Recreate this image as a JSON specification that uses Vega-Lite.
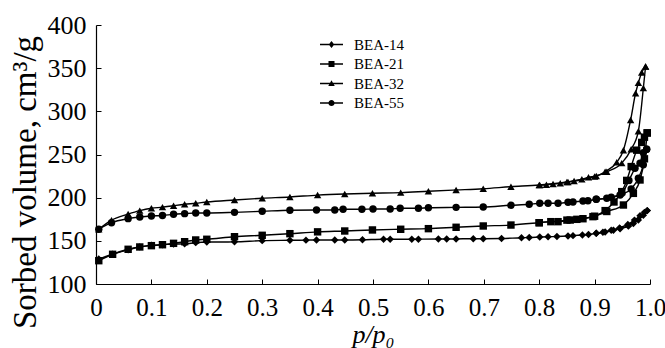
{
  "$schema": "https://vega.github.io/schema/vega-lite/v6.json",
  "autosize": {"type": "none"},
  "width": 554,
  "height": 259,
  "padding": {"left": 96, "top": 25, "right": 15, "bottom": 64},
  "background": "white",
  "datasets": {
    "pts": [
      {"s":"BEA-14","b":"a","x":0.005,"y":129},{"s":"BEA-14","b":"a","x":0.03,"y":134.5},{"s":"BEA-14","b":"a","x":0.058,"y":139.5},{"s":"BEA-14","b":"a","x":0.079,"y":143},{"s":"BEA-14","b":"a","x":0.1,"y":145},{"s":"BEA-14","b":"a","x":0.12,"y":145.5},{"s":"BEA-14","b":"a","x":0.14,"y":146.3},{"s":"BEA-14","b":"a","x":0.16,"y":146.5},{"s":"BEA-14","b":"a","x":0.18,"y":147.9},{"s":"BEA-14","b":"a","x":0.2,"y":148.6},{"s":"BEA-14","b":"a","x":0.25,"y":148.8},{"s":"BEA-14","b":"a","x":0.3,"y":150.2},{"s":"BEA-14","b":"a","x":0.35,"y":150.6},{"s":"BEA-14","b":"a","x":0.379,"y":150.8},{"s":"BEA-14","b":"a","x":0.398,"y":151},{"s":"BEA-14","b":"a","x":0.431,"y":151},{"s":"BEA-14","b":"a","x":0.449,"y":151},{"s":"BEA-14","b":"a","x":0.481,"y":151.2},{"s":"BEA-14","b":"a","x":0.519,"y":151.8},{"s":"BEA-14","b":"a","x":0.531,"y":151.8},{"s":"BEA-14","b":"a","x":0.57,"y":151.8},{"s":"BEA-14","b":"a","x":0.582,"y":151.9},{"s":"BEA-14","b":"a","x":0.618,"y":152.1},{"s":"BEA-14","b":"a","x":0.633,"y":152.1},{"s":"BEA-14","b":"a","x":0.65,"y":152.2},{"s":"BEA-14","b":"a","x":0.681,"y":152.5},{"s":"BEA-14","b":"a","x":0.699,"y":152.5},{"s":"BEA-14","b":"a","x":0.732,"y":152.7},{"s":"BEA-14","b":"a","x":0.768,"y":153.6},{"s":"BEA-14","b":"a","x":0.782,"y":153.8},{"s":"BEA-14","b":"a","x":0.801,"y":154.4},{"s":"BEA-14","b":"a","x":0.816,"y":154.8},{"s":"BEA-14","b":"a","x":0.832,"y":155},{"s":"BEA-14","b":"a","x":0.852,"y":155.6},{"s":"BEA-14","b":"a","x":0.861,"y":156},{"s":"BEA-14","b":"a","x":0.878,"y":156.8},{"s":"BEA-14","b":"a","x":0.889,"y":157.3},{"s":"BEA-14","b":"a","x":0.903,"y":158.7},{"s":"BEA-14","b":"a","x":0.919,"y":160.3},{"s":"BEA-14","b":"a","x":0.934,"y":162.3},{"s":"BEA-14","b":"a","x":0.946,"y":164},{"s":"BEA-14","b":"a","x":0.961,"y":167},{"s":"BEA-14","b":"a","x":0.97,"y":170},{"s":"BEA-14","b":"a","x":0.979,"y":174},{"s":"BEA-14","b":"a","x":0.988,"y":179.5},{"s":"BEA-14","b":"a","x":0.995,"y":185},
      {"s":"BEA-14","b":"d","x":0.995,"y":185},{"s":"BEA-14","b":"d","x":0.99,"y":183},{"s":"BEA-14","b":"d","x":0.982,"y":179},{"s":"BEA-14","b":"d","x":0.972,"y":174},{"s":"BEA-14","b":"d","x":0.96,"y":169},{"s":"BEA-14","b":"d","x":0.945,"y":165},{"s":"BEA-14","b":"d","x":0.93,"y":162.3},{"s":"BEA-14","b":"d","x":0.915,"y":160},{"s":"BEA-14","b":"d","x":0.903,"y":158.7},
      {"s":"BEA-21","b":"a","x":0.005,"y":127},{"s":"BEA-21","b":"a","x":0.03,"y":134.4},{"s":"BEA-21","b":"a","x":0.058,"y":140.2},{"s":"BEA-21","b":"a","x":0.079,"y":142.9},{"s":"BEA-21","b":"a","x":0.1,"y":144.4},{"s":"BEA-21","b":"a","x":0.12,"y":145.5},{"s":"BEA-21","b":"a","x":0.14,"y":147.1},{"s":"BEA-21","b":"a","x":0.16,"y":149},{"s":"BEA-21","b":"a","x":0.18,"y":151},{"s":"BEA-21","b":"a","x":0.2,"y":151.8},{"s":"BEA-21","b":"a","x":0.25,"y":154.8},{"s":"BEA-21","b":"a","x":0.3,"y":156.4},{"s":"BEA-21","b":"a","x":0.35,"y":158.3},{"s":"BEA-21","b":"a","x":0.4,"y":160.4},{"s":"BEA-21","b":"a","x":0.449,"y":161.4},{"s":"BEA-21","b":"a","x":0.499,"y":162.6},{"s":"BEA-21","b":"a","x":0.55,"y":163.4},{"s":"BEA-21","b":"a","x":0.6,"y":164.1},{"s":"BEA-21","b":"a","x":0.65,"y":165.7},{"s":"BEA-21","b":"a","x":0.699,"y":167.2},{"s":"BEA-21","b":"a","x":0.749,"y":168.3},{"s":"BEA-21","b":"a","x":0.8,"y":171},{"s":"BEA-21","b":"a","x":0.85,"y":174},{"s":"BEA-21","b":"a","x":0.9,"y":178.5},{"s":"BEA-21","b":"a","x":0.922,"y":184},{"s":"BEA-21","b":"a","x":0.952,"y":191.5},{"s":"BEA-21","b":"a","x":0.97,"y":205},{"s":"BEA-21","b":"a","x":0.982,"y":220.5},{"s":"BEA-21","b":"a","x":0.99,"y":245},{"s":"BEA-21","b":"a","x":0.995,"y":275},
      {"s":"BEA-21","b":"d","x":0.995,"y":275},{"s":"BEA-21","b":"d","x":0.99,"y":270},{"s":"BEA-21","b":"d","x":0.985,"y":264},{"s":"BEA-21","b":"d","x":0.976,"y":255},{"s":"BEA-21","b":"d","x":0.966,"y":236},{"s":"BEA-21","b":"d","x":0.958,"y":220},{"s":"BEA-21","b":"d","x":0.949,"y":207},{"s":"BEA-21","b":"d","x":0.935,"y":195},{"s":"BEA-21","b":"d","x":0.919,"y":185},{"s":"BEA-21","b":"d","x":0.897,"y":178},{"s":"BEA-21","b":"d","x":0.879,"y":175.6},{"s":"BEA-21","b":"d","x":0.868,"y":174.9},{"s":"BEA-21","b":"d","x":0.856,"y":174.1},{"s":"BEA-21","b":"d","x":0.834,"y":172.2},{"s":"BEA-21","b":"d","x":0.821,"y":172.2},{"s":"BEA-21","b":"d","x":0.8,"y":171},
      {"s":"BEA-32","b":"a","x":0.005,"y":163.4},{"s":"BEA-32","b":"a","x":0.028,"y":174},{"s":"BEA-32","b":"a","x":0.058,"y":181},{"s":"BEA-32","b":"a","x":0.079,"y":185},{"s":"BEA-32","b":"a","x":0.1,"y":187.7},{"s":"BEA-32","b":"a","x":0.12,"y":189},{"s":"BEA-32","b":"a","x":0.14,"y":190.7},{"s":"BEA-32","b":"a","x":0.16,"y":192.3},{"s":"BEA-32","b":"a","x":0.18,"y":193.5},{"s":"BEA-32","b":"a","x":0.2,"y":195},{"s":"BEA-32","b":"a","x":0.25,"y":197.3},{"s":"BEA-32","b":"a","x":0.3,"y":199.3},{"s":"BEA-32","b":"a","x":0.35,"y":200.8},{"s":"BEA-32","b":"a","x":0.4,"y":203},{"s":"BEA-32","b":"a","x":0.449,"y":204.3},{"s":"BEA-32","b":"a","x":0.499,"y":205.1},{"s":"BEA-32","b":"a","x":0.55,"y":205.8},{"s":"BEA-32","b":"a","x":0.6,"y":207.4},{"s":"BEA-32","b":"a","x":0.65,"y":208.9},{"s":"BEA-32","b":"a","x":0.699,"y":210.4},{"s":"BEA-32","b":"a","x":0.749,"y":212.7},{"s":"BEA-32","b":"a","x":0.8,"y":214.7},{"s":"BEA-32","b":"a","x":0.85,"y":218.2},{"s":"BEA-32","b":"a","x":0.9,"y":224.5},{"s":"BEA-32","b":"a","x":0.922,"y":230},{"s":"BEA-32","b":"a","x":0.949,"y":240},{"s":"BEA-32","b":"a","x":0.966,"y":256},{"s":"BEA-32","b":"a","x":0.979,"y":277},{"s":"BEA-32","b":"a","x":0.988,"y":327},{"s":"BEA-32","b":"a","x":0.992,"y":352},
      {"s":"BEA-32","b":"d","x":0.992,"y":352},{"s":"BEA-32","b":"d","x":0.985,"y":345},{"s":"BEA-32","b":"d","x":0.979,"y":333},{"s":"BEA-32","b":"d","x":0.974,"y":321},{"s":"BEA-32","b":"d","x":0.965,"y":290},{"s":"BEA-32","b":"d","x":0.952,"y":255},{"s":"BEA-32","b":"d","x":0.94,"y":241},{"s":"BEA-32","b":"d","x":0.919,"y":230},{"s":"BEA-32","b":"d","x":0.903,"y":225.1},{"s":"BEA-32","b":"d","x":0.889,"y":223.6},{"s":"BEA-32","b":"d","x":0.877,"y":221.3},{"s":"BEA-32","b":"d","x":0.863,"y":219.3},{"s":"BEA-32","b":"d","x":0.852,"y":218.2},{"s":"BEA-32","b":"d","x":0.838,"y":216.6},{"s":"BEA-32","b":"d","x":0.825,"y":215.8},{"s":"BEA-32","b":"d","x":0.813,"y":215},{"s":"BEA-32","b":"d","x":0.801,"y":214.7},
      {"s":"BEA-55","b":"a","x":0.005,"y":163.4},{"s":"BEA-55","b":"a","x":0.028,"y":171},{"s":"BEA-55","b":"a","x":0.058,"y":175.7},{"s":"BEA-55","b":"a","x":0.079,"y":177.6},{"s":"BEA-55","b":"a","x":0.1,"y":178.8},{"s":"BEA-55","b":"a","x":0.12,"y":179.4},{"s":"BEA-55","b":"a","x":0.14,"y":180.7},{"s":"BEA-55","b":"a","x":0.16,"y":181.5},{"s":"BEA-55","b":"a","x":0.18,"y":182.2},{"s":"BEA-55","b":"a","x":0.2,"y":182.2},{"s":"BEA-55","b":"a","x":0.25,"y":183},{"s":"BEA-55","b":"a","x":0.3,"y":184.2},{"s":"BEA-55","b":"a","x":0.35,"y":185.5},{"s":"BEA-55","b":"a","x":0.398,"y":185.7},{"s":"BEA-55","b":"a","x":0.431,"y":185.7},{"s":"BEA-55","b":"a","x":0.446,"y":186.5},{"s":"BEA-55","b":"a","x":0.48,"y":186.5},{"s":"BEA-55","b":"a","x":0.5,"y":186.9},{"s":"BEA-55","b":"a","x":0.531,"y":186.9},{"s":"BEA-55","b":"a","x":0.549,"y":187.7},{"s":"BEA-55","b":"a","x":0.582,"y":187.7},{"s":"BEA-55","b":"a","x":0.6,"y":188.4},{"s":"BEA-55","b":"a","x":0.65,"y":188.8},{"s":"BEA-55","b":"a","x":0.699,"y":189.2},{"s":"BEA-55","b":"a","x":0.749,"y":191.2},{"s":"BEA-55","b":"a","x":0.782,"y":192.3},{"s":"BEA-55","b":"a","x":0.801,"y":193.5},{"s":"BEA-55","b":"a","x":0.816,"y":193.5},{"s":"BEA-55","b":"a","x":0.834,"y":193.5},{"s":"BEA-55","b":"a","x":0.852,"y":194.6},{"s":"BEA-55","b":"a","x":0.861,"y":195},{"s":"BEA-55","b":"a","x":0.879,"y":196.1},{"s":"BEA-55","b":"a","x":0.888,"y":196.5},{"s":"BEA-55","b":"a","x":0.903,"y":198.1},{"s":"BEA-55","b":"a","x":0.922,"y":199.3},{"s":"BEA-55","b":"a","x":0.946,"y":203},{"s":"BEA-55","b":"a","x":0.966,"y":210},{"s":"BEA-55","b":"a","x":0.979,"y":222.4},{"s":"BEA-55","b":"a","x":0.988,"y":238},{"s":"BEA-55","b":"a","x":0.994,"y":256},
      {"s":"BEA-55","b":"d","x":0.994,"y":256},{"s":"BEA-55","b":"d","x":0.988,"y":252},{"s":"BEA-55","b":"d","x":0.982,"y":240},{"s":"BEA-55","b":"d","x":0.973,"y":234},{"s":"BEA-55","b":"d","x":0.962,"y":220},{"s":"BEA-55","b":"d","x":0.949,"y":205},{"s":"BEA-55","b":"d","x":0.93,"y":200.5},{"s":"BEA-55","b":"d","x":0.903,"y":198.1}
    ]
  },
  "data": {"name": "pts"},
  "encoding": {
    "x": {
      "field": "x", "type": "quantitative",
      "scale": {"domain": [0, 1], "nice": false, "zero": false},
      "axis": {
        "title": "p/p₀",
        "titleFontStyle": "italic",
        "titleFontSize": 26,
        "titleBaseline": "alphabetic",
        "titleY": 58,
        "values": [0, 0.1, 0.2, 0.3, 0.4, 0.5, 0.6, 0.7, 0.8, 0.9, 1],
        "labelExpr": "datum.value === 0 ? '0' : format(datum.value, '.1f')",
        "labelPadding": 16,
        "labelFontSize": 25,
        "labelFlush": false
      }
    },
    "y": {
      "field": "y", "type": "quantitative",
      "scale": {"domain": [100, 400], "nice": false, "zero": false},
      "axis": {
        "title": "Sorbed volume, cm³/g",
        "titleFontSize": 33,
        "titleAngle": -90,
        "titleBaseline": "alphabetic",
        "titleAlign": "center",
        "titleX": -61,
        "titleY": 157,
        "values": [100, 150, 200, 250, 300, 350, 400],
        "labelPadding": 15,
        "labelFlush": false
      }
    }
  },
  "layer": [
    {
      "mark": {"type": "line", "interpolate": "monotone", "color": "black", "strokeWidth": 1.4},
      "encoding": {
        "detail": [{"field": "s"}, {"field": "b"}],
        "order": {"field": "x", "type": "quantitative"}
      }
    },
    {
      "mark": {"type": "point", "filled": true, "color": "black", "opacity": 1, "size": 55},
      "encoding": {
        "shape": {
          "field": "s", "type": "nominal",
          "scale": {"domain": ["BEA-14", "BEA-21", "BEA-32", "BEA-55"], "range": ["diamond", "square", "triangle-up", "circle"]},
          "legend": null
        }
      }
    },
    {
      "transform": [{"filter": "datum.x > 5"}],
      "mark": {"type": "point", "filled": true, "color": "black", "opacity": 1},
      "encoding": {
        "shape": {
          "field": "s", "type": "nominal",
          "scale": {"domain": ["BEA-14", "BEA-21", "BEA-32", "BEA-55"], "range": ["M-2.3,-0.13L2.3,-0.13L2.3,0.13L-2.3,0.13ZM0,-0.7L0.55,0L0,0.7L-0.55,0Z", "M-2.3,-0.13L2.3,-0.13L2.3,0.13L-2.3,0.13ZM-0.6,-0.6L0.6,-0.6L0.6,0.6L-0.6,0.6Z", "M-2.3,-0.13L2.3,-0.13L2.3,0.13L-2.3,0.13ZM0,-0.65L0.65,0.5L-0.65,0.5Z", "M-2.3,-0.13L2.3,-0.13L2.3,0.13L-2.3,0.13ZM0.62,0A0.62,0.62,0,1,1,-0.62,0A0.62,0.62,0,1,1,0.62,0Z"]},
          "legend": {
            "title": null,
            "orient": "none",
            "legendX": 228,
            "legendY": 12,
            "padding": 0,
            "labelFont": "Liberation Serif",
            "labelFontSize": 15,
            "labelColor": "black",
            "labelOffset": 15,
            "rowPadding": 3.5,
            "symbolSize": 100,
            "symbolFillColor": "black",
            "symbolOpacity": 1
          }
        }
      }
    }
  ],
  "resolve": {"scale": {"shape": "independent"}, "legend": {"shape": "independent"}},
  "config": {
    "view": {"stroke": null},
    "axis": {
      "grid": false,
      "domainColor": "black",
      "domainWidth": 1.2,
      "tickColor": "black",
      "tickWidth": 1,
      "tickSize": -5,
      "labelFont": "Liberation Serif",
      "labelFontSize": 26,
      "labelColor": "black",
      "titleFont": "Liberation Serif",
      "titleFontWeight": "normal",
      "titleColor": "black"
    }
  }
}
